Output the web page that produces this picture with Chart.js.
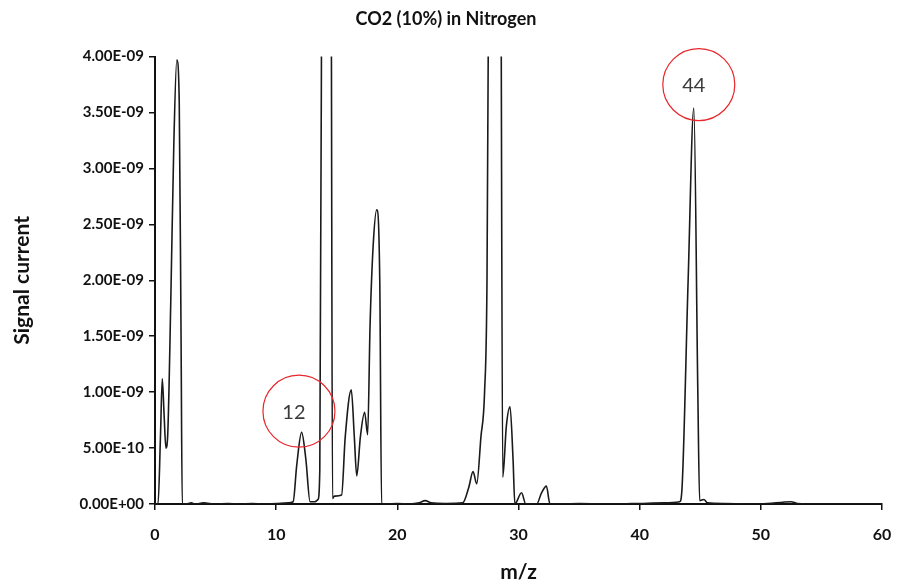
<!DOCTYPE html>
<html>
<head>
<meta charset="utf-8">
<script src="https://cdn.jsdelivr.net/npm/chart.js@4/dist/chart.umd.min.js"></script>
<style>
html,body{margin:0;padding:0;background:#fff;}
#wrap{width:898px;height:585px;position:relative;}
</style>
</head>
<body>
<div id="wrap"><canvas id="c" width="898" height="585"></canvas></div>
<script>
const chartTitle = 'CO2 (10%) in Nitrogen';
const xTitle = 'm/z';
const yTitle = 'Signal current';

const mz = [
  0, 0.25, 0.45, 0.6, 0.75, 0.9, 1.05, 1.3, 1.55, 1.8, 2.0, 2.15, 2.25, 2.5, 3.0, 3.3, 4, 5, 6, 7, 8, 9, 10, 11,
  11.4, 11.7, 12.1, 12.45, 12.8, 13.2, 13.45, 13.6, 13.75, 14.1, 14.55, 14.65, 14.8, 15.4, 15.7, 16.2, 16.45, 16.65,
  16.95, 17.3, 17.55, 17.75, 18.0, 18.3, 18.55, 18.7, 19, 20, 21, 21.8, 22.3, 22.8, 24, 25.4, 25.9, 26.25, 26.55,
  26.9, 27.2, 27.4, 27.55, 28, 28.55, 28.7, 29.0, 29.3, 29.55, 29.7, 30.25, 30.6, 31.5, 31.9, 32.3, 32.6, 33, 35,
  38, 40, 42, 43.3, 43.5, 44.0, 44.47, 44.8, 44.95, 45.3, 45.6, 47, 50, 52.5, 53, 55, 60
];
const signal = [
  0, 0, 0.6e-9, 1.12e-9, 0.8e-9, 0.5e-9, 0.62e-9, 1.8e-9, 3.2e-9, 3.97e-9, 3.6e-9, 1.5e-9, 0, 0, 0.01e-9, 0, 0.01e-9, 0, 0.005e-9, 0, 0.005e-9, 0, 0.005e-9, 0.01e-9,
  0.02e-9, 0.35e-9, 0.64e-9, 0.4e-9, 0.02e-9, 0.02e-9, 0.04e-9, 0.3e-9, 4.5e-9, 20e-9, 4.5e-9, 0.05e-9, 0.07e-9, 0.08e-9, 0.6e-9, 1.02e-9, 0.6e-9, 0.25e-9,
  0.6e-9, 0.82e-9, 0.62e-9, 1.6e-9, 2.3e-9, 2.63e-9, 2.0e-9, 0, 0, 0.005e-9, 0, 0.01e-9, 0.03e-9, 0.01e-9, 0.005e-9, 0.01e-9, 0.15e-9, 0.29e-9, 0.18e-9,
  0.6e-9, 1.0e-9, 2.0e-9, 5e-9, 20e-9, 5e-9, 0.24e-9, 0.7e-9, 0.87e-9, 0.4e-9, 0, 0.1e-9, 0, 0, 0.1e-9, 0.16e-9, 0, 0, 0.005e-9,
  0, 0.005e-9, 0.01e-9, 0.02e-9, 0.15e-9, 2.0e-9, 3.54e-9, 1.0e-9, 0.03e-9, 0.04e-9, 0.01e-9, 0.005e-9, 0, 0.02e-9, 0.005e-9, 0, 0
];

const xTickValues = [0, 10, 20, 30, 40, 50, 60];
const xTickLabels = ['0', '10', '20', '30', '40', '50', '60'];
const yTickValues = [0, 0.5e-9, 1.0e-9, 1.5e-9, 2.0e-9, 2.5e-9, 3.0e-9, 3.5e-9, 4.0e-9];
const yTickLabels = ['0.00E+00', '5.00E-10', '1.00E-09', '1.50E-09', '2.00E-09', '2.50E-09', '3.00E-09', '3.50E-09', '4.00E-09'];

// circled peak labels: label text, centre in data units (m/z, signal)
const calloutLabels = ['12', '44'];
const calloutMz = [11.88, 44.88];
const calloutSignal = [0.83e-9, 3.75e-9];

const FONT = 'Lato, "Open Sans", "Liberation Sans", sans-serif';

const calloutPlugin = {
  id: 'callouts',
  afterDatasetsDraw(chart) {
    const ctx = chart.ctx;
    const xs = chart.scales.x, ys = chart.scales.y;
    ctx.save();
    for (let i = 0; i < calloutLabels.length; i++) {
      const cx = xs.getPixelForValue(calloutMz[i]);
      const cy = ys.getPixelForValue(calloutSignal[i]);
      ctx.beginPath();
      ctx.ellipse(cx, cy, 36, 36, 0, 0, Math.PI * 2);
      ctx.strokeStyle = '#e8262b';
      ctx.lineWidth = 1.2;
      ctx.stroke();
      ctx.fillStyle = '#3a3a3a';
      ctx.font = '20px ' + FONT;
      ctx.textAlign = 'center';
      ctx.textBaseline = 'middle';
      ctx.fillText(calloutLabels[i], cx - 5, cy + 1);
    }
    ctx.restore();
  }
};

new Chart(document.getElementById('c'), {
  type: 'line',
  data: {
    datasets: [{
      data: mz.map((x, i) => ({ x: x, y: signal[i] })),
      borderColor: '#1a1a1a',
      borderWidth: 1.6,
      pointRadius: 0,
      fill: false,
      cubicInterpolationMode: 'monotone'
    }]
  },
  options: {
    responsive: false,
    animation: false,
    layout: { padding: { left: 10, right: 16, top: 4, bottom: 0 } },
    plugins: {
      legend: { display: false },
      tooltip: { enabled: false },
      title: {
        display: true,
        text: chartTitle,
        color: '#111',
        font: { family: FONT, size: 18, weight: 'bold' },
        padding: { top: 4, bottom: 27 }
      }
    },
    scales: {
      x: {
        type: 'linear',
        min: 0, max: 60,
        afterBuildTicks: s => { s.ticks = xTickValues.map(v => ({ value: v })); },
        afterFit: s => { s.height = 81; s.paddingRight = 0; s.paddingLeft = 0; },
        ticks: {
          callback: (v) => xTickLabels[xTickValues.indexOf(v)],
          color: '#111',
          font: { family: FONT, size: 16, weight: 'bold' },
          padding: 15,
          maxRotation: 0
        },
        grid: { display: true, drawOnChartArea: false, drawTicks: true, tickLength: 6, color: '#111', lineWidth: 1.5 },
        border: { display: true, color: '#111', width: 2 },
        title: { display: true, text: xTitle, color: '#111', font: { family: FONT, size: 21, weight: 'bold' }, padding: { top: 4, bottom: 0 } }
      },
      y: {
        type: 'linear',
        min: 0, max: 4e-9,
        afterBuildTicks: s => { s.ticks = yTickValues.map(v => ({ value: v })); },
        afterFit: s => { s.width = 145; },
        ticks: {
          callback: (v) => { const i = yTickValues.findIndex(t => Math.abs(t - v) < 1e-13); return i >= 0 ? yTickLabels[i] : ''; },
          color: '#111',
          font: { family: FONT, size: 15, weight: 'bold' },
          padding: 5
        },
        grid: { display: true, drawOnChartArea: false, drawTicks: true, tickLength: 6, color: '#111', lineWidth: 1.5 },
        border: { display: true, color: '#111', width: 2 },
        title: { display: true, text: yTitle, color: '#111', font: { family: FONT, size: 21, weight: 'bold' }, padding: { top: 0, bottom: 4 } }
      }
    }
  },
  plugins: [calloutPlugin]
});
</script>
</body>
</html>
